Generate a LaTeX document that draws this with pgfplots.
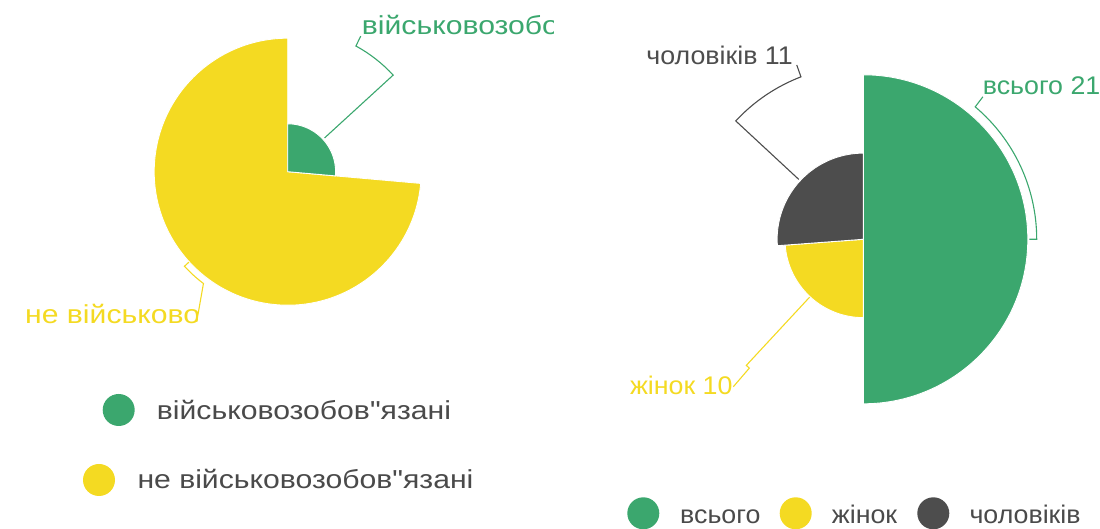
\documentclass[border=0pt]{standalone}
\usepackage{fontspec}
\setmainfont{Liberation Sans}
\newfontfamily\lfont[FakeStretch=1.16]{Liberation Sans}
\newfontfamily\rfont[FakeStretch=1.05]{Liberation Sans}
\usepackage{pgfplots}
\pgfplotsset{compat=1.18}
\definecolor{cgreen}{RGB}{59,167,110}
\definecolor{cyellow}{RGB}{244,218,34}
\definecolor{cdark}{RGB}{77,77,77}
\definecolor{ctext}{RGB}{74,74,74}
% sector: center, start angle, end angle, radius, colour
\newcommand\sector[5]{\filldraw[fill=#5, draw=white, line width=0.9pt] (#1) -- ([shift={(#2:#4pt)}]#1) arc[start angle=#2, end angle=#3, radius=#4pt] -- cycle;}
\newcommand\lf{\lfont\fontsize{26}{30}\selectfont}
\newcommand\rf{\rfont\fontsize{25.5}{30}\selectfont}
\begin{document}
\begin{tikzpicture}
% ---- data ----
\def\lMil{26.4}   % військовозобов'язані, %
\def\lNon{73.6}   % не військовозобов'язані, %
\def\rAll{21}     % всього
\def\rWom{10}     % жінок
\def\rMen{11}     % чоловіків
% ---- geometry derived from data ----
\pgfmathsetmacro\lTot{\lMil+\lNon}
\pgfmathsetmacro\lRmax{133.5}
\pgfmathsetmacro\lEa{90-360*\lMil/\lTot}
\pgfmathsetmacro\lRa{\lRmax*\lMil/max(\lMil,\lNon)}
\pgfmathsetmacro\lRb{\lRmax*\lNon/max(\lMil,\lNon)}
\pgfmathsetmacro\lMa{90-180*\lMil/\lTot}
\pgfmathsetmacro\lMb{\lEa-180*\lNon/\lTot}
\pgfmathsetmacro\rTot{\rAll+\rWom+\rMen}
\pgfmathsetmacro\rRmax{164.5}
\pgfmathsetmacro\rM{max(\rAll,max(\rWom,\rMen))}
\pgfmathsetmacro\rEa{90-360*\rAll/\rTot}
\pgfmathsetmacro\rEb{\rEa-360*\rWom/\rTot}
\pgfmathsetmacro\rEc{\rEb-360*\rMen/\rTot}
\pgfmathsetmacro\rRa{\rRmax*\rAll/\rM}
\pgfmathsetmacro\rRb{\rRmax*\rWom/\rM}
\pgfmathsetmacro\rRc{\rRmax*\rMen/\rM}
\pgfmathsetmacro\rMa{90-180*\rAll/\rTot}
\pgfmathsetmacro\rMb{\rEa-180*\rWom/\rTot}
\pgfmathsetmacro\rMc{\rEb-180*\rMen/\rTot}
\path[use as bounding box] (0,0) rectangle (1100pt,529pt);
\begin{axis}[x=1pt, y=1pt, xmin=0, xmax=1100, ymin=0, ymax=529,
  at={(0,0)}, anchor=south west, hide axis, clip=false]
\coordinate (Lc) at (axis cs:287.7,357.3);
\coordinate (Rc) at (axis cs:863.3,289.7);
% left chart
\sector{Lc}{\lEa}{-270}{\lRb}{cyellow}
\sector{Lc}{90}{\lEa}{\lRa}{cgreen}
% right chart
\sector{Rc}{90}{\rEa}{\rRa}{cgreen}
\sector{Rc}{\rEa}{\rEb}{\rRb}{cyellow}
\sector{Rc}{\rEb}{\rEc}{\rRc}{cdark}
% leader lines
\draw[cgreen, line width=1.1pt] ([shift={(\lMa:50pt)}]Lc) -- ([shift={(\lMa:143pt)}]Lc) arc[start angle=\lMa, end angle=61.5, radius=143pt] -- ([shift={(61.7:154pt)}]Lc);
\draw[cyellow, line width=1.1pt] ([shift={(\lMb:134pt)}]Lc) -- ([shift={(\lMb:140pt)}]Lc) arc[start angle=\lMb, end angle=-127, radius=140pt] -- (axis cs:196.7,207.3);
\draw[cdark, line width=1.1pt] ([shift={(\rMc:88pt)}]Rc) -- ([shift={(\rMc:174pt)}]Rc) arc[start angle=\rMc, end angle=-249, radius=174pt] -- ([shift={(-249.1:186.6pt)}]Rc);
\draw[cgreen, line width=1.1pt] ([shift={(\rMa:166pt)}]Rc) -- ([shift={(\rMa:173.4pt)}]Rc) arc[start angle=\rMa, end angle=49.8, radius=173.4pt] -- ([shift={(50:186pt)}]Rc);
\draw[cyellow, line width=1.1pt] ([shift={(\rMb:79pt)}]Rc) -- ([shift={(\rMb:172pt)}]Rc) arc[start angle=\rMb, end angle=-131.5, radius=172pt] -- ([shift={(-131.4:196.5pt)}]Rc);
% labels
\begin{scope}
\clip (axis cs:0,0) rectangle (axis cs:553,529);
\node[anchor=base west, inner sep=0, text=cgreen, font=\lf] at (axis cs:361.7,494) {військовозобов"язані 26.4\%};
\end{scope}
\begin{scope}
\clip (axis cs:0,0) rectangle (axis cs:197,529);
\node[anchor=base west, inner sep=0, text=cyellow, font=\lf] at (axis cs:25,205.7) {не військовозобов"язані 73.6\%};
\end{scope}
\node[anchor=base east, inner sep=0, text=cdark, font=\rf] at (axis cs:793,464) {чоловіків 11};
\node[anchor=base west, inner sep=0, text=cgreen, font=\rf] at (axis cs:982.7,434) {всього 21};
\node[anchor=base east, inner sep=0, text=cyellow, font=\rf] at (axis cs:732.7,134) {жінок 10};
% legends
\fill[cgreen] (axis cs:118.7,119) circle[radius=16pt];
\node[anchor=base west, inner sep=0, text=ctext, font=\lf] at (axis cs:156.7,109) {військовозобов"язані};
\fill[cyellow] (axis cs:99,49) circle[radius=16pt];
\node[anchor=base west, inner sep=0, text=ctext, font=\lf] at (axis cs:137.3,40) {не військовозобов"язані};
\fill[cgreen] (axis cs:643.3,15.7) circle[radius=16pt];
\node[anchor=base west, inner sep=0, text=ctext, font=\rf] at (axis cs:680,5.7) {всього};
\fill[cyellow] (axis cs:795.7,15.7) circle[radius=16pt];
\node[anchor=base west, inner sep=0, text=ctext, font=\rf] at (axis cs:831.7,5.7) {жінок};
\fill[cdark] (axis cs:933.3,15.7) circle[radius=16pt];
\node[anchor=base west, inner sep=0, text=ctext, font=\rf] at (axis cs:969.3,5.7) {чоловіків};
\end{axis}
\end{tikzpicture}
\end{document}
